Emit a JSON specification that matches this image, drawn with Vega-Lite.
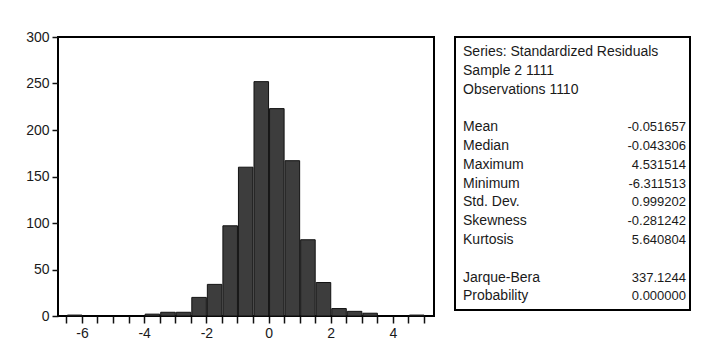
{
  "$schema": "https://vega.github.io/schema/vega-lite/v6.json",
  "padding": {"left": 24, "top": 29, "right": 0, "bottom": 0},
  "background": "#ffffff",
  "spacing": 21,
  "bounds": "flush",
  "config": {
    "view": {"stroke": "#000000", "strokeWidth": 2},
    "font": "Liberation Sans"
  },
  "hconcat": [
    {
      "width": 376,
      "height": 279,
      "data": {
        "values": [
          {"bin_start": -6.5, "bin_end": -6.0, "count": 1},
          {"bin_start": -4.0, "bin_end": -3.5, "count": 2},
          {"bin_start": -3.5, "bin_end": -3.0, "count": 4},
          {"bin_start": -3.0, "bin_end": -2.5, "count": 4},
          {"bin_start": -2.5, "bin_end": -2.0, "count": 20},
          {"bin_start": -2.0, "bin_end": -1.5, "count": 34},
          {"bin_start": -1.5, "bin_end": -1.0, "count": 97},
          {"bin_start": -1.0, "bin_end": -0.5, "count": 160},
          {"bin_start": -0.5, "bin_end": 0.0, "count": 252},
          {"bin_start": 0.0, "bin_end": 0.5, "count": 223},
          {"bin_start": 0.5, "bin_end": 1.0, "count": 167},
          {"bin_start": 1.0, "bin_end": 1.5, "count": 82},
          {"bin_start": 1.5, "bin_end": 2.0, "count": 36},
          {"bin_start": 2.0, "bin_end": 2.5, "count": 8},
          {"bin_start": 2.5, "bin_end": 3.0, "count": 5},
          {"bin_start": 3.0, "bin_end": 3.5, "count": 3},
          {"bin_start": 4.5, "bin_end": 5.0, "count": 1}
        ]
      },
      "mark": {"type": "bar", "fill": "#3d3d3d", "stroke": "#111111", "strokeWidth": 1},
      "encoding": {
        "x": {
          "field": "bin_start",
          "type": "quantitative",
          "bin": "binned",
          "scale": {"domain": [-6.77, 5.32], "nice": false, "zero": false},
          "axis": {
            "title": null,
            "domain": false,
            "grid": false,
            "values": [-6.5, -6, -5.5, -5, -4.5, -4, -3.5, -3, -2.5, -2, -1.5, -1, -0.5, 0, 0.5, 1, 1.5, 2, 2.5, 3, 3.5, 4, 4.5, 5],
            "labelExpr": "datum.value % 2 == 0 ? '' + datum.value : ''",
            "tickSize": 7,
            "tickWidth": 1.5,
            "tickColor": "#111111",
            "labelFontSize": 14,
            "labelColor": "#1a1a1a",
            "labelPadding": 3,
            "labelFlush": false
          }
        },
        "x2": {"field": "bin_end"},
        "y": {
          "field": "count",
          "type": "quantitative",
          "scale": {"domain": [0, 300], "nice": false},
          "axis": {
            "title": null,
            "domain": false,
            "grid": false,
            "values": [0, 50, 100, 150, 200, 250, 300],
            "tickSize": 6,
            "tickWidth": 1.5,
            "tickColor": "#111111",
            "labelFontSize": 14,
            "labelColor": "#1a1a1a",
            "labelPadding": 3,
            "labelFlush": false
          }
        }
      }
    },
    {
      "width": 235,
      "height": 273,
      "data": {
        "values": [
          {"row": 1, "label": "Series: Standardized Residuals", "value": ""},
          {"row": 2, "label": "Sample 2 1111", "value": ""},
          {"row": 3, "label": "Observations 1110", "value": ""},
          {"row": 5, "label": "Mean", "value": "-0.051657"},
          {"row": 6, "label": "Median", "value": "-0.043306"},
          {"row": 7, "label": "Maximum", "value": "4.531514"},
          {"row": 8, "label": "Minimum", "value": "-6.311513"},
          {"row": 9, "label": "Std. Dev.", "value": "0.999202"},
          {"row": 10, "label": "Skewness", "value": "-0.281242"},
          {"row": 11, "label": "Kurtosis", "value": "5.640804"},
          {"row": 13, "label": "Jarque-Bera", "value": "337.1244"},
          {"row": 14, "label": "Probability", "value": "0.000000"}
        ]
      },
      "encoding": {
        "y": {
          "field": "row",
          "type": "quantitative",
          "scale": {"domain": [0.2, 14.72], "nice": false, "zero": false, "reverse": true},
          "axis": null
        }
      },
      "layer": [
        {
          "mark": {"type": "text", "align": "left", "baseline": "middle", "fontSize": 14, "color": "#1a1a1a"},
          "encoding": {
            "x": {"datum": 0, "type": "quantitative", "scale": {"domain": [-0.0359, 1.0178], "nice": false, "zero": false}, "axis": null},
            "text": {"field": "label"}
          }
        },
        {
          "mark": {"type": "text", "align": "right", "baseline": "middle", "fontSize": 13, "color": "#1a1a1a"},
          "encoding": {
            "x": {"datum": 1, "type": "quantitative"},
            "text": {"field": "value"}
          }
        }
      ]
    }
  ]
}
